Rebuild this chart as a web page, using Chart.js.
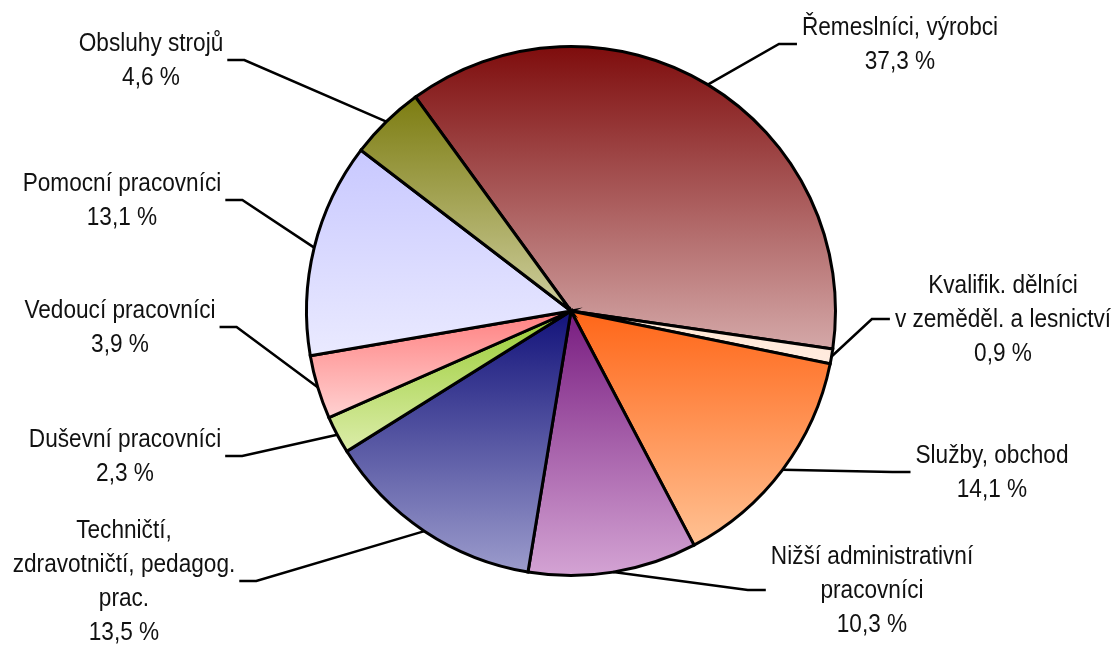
<!DOCTYPE html>
<html lang="cs">
<head>
<meta charset="UTF-8" />
<title>Struktura zaměstnaných</title>
<style>
  html, body { margin: 0; padding: 0; background: #fff; }
  #wrap { width: 1117px; height: 645px; }
</style>
</head>
<body>
<div id="wrap"><canvas id="pie" width="1117" height="645"></canvas></div>

<script src="https://cdn.jsdelivr.net/npm/chart.js"></script>
<script>
// data
const categories = [
  ['Řemeslníci, výrobci'],
  ['Kvalifik. dělníci', 'v zeměděl. a lesnictví'],
  ['Služby, obchod'],
  ['Nižší administrativní', 'pracovníci'],
  ['Techničtí,', 'zdravotničtí, pedagog.', 'prac.'],
  ['Duševní pracovníci'],
  ['Vedoucí pracovníci'],
  ['Pomocní pracovníci'],
  ['Obsluhy strojů']
];
const shares = [37.3, 0.9, 14.1, 10.3, 13.5, 2.3, 3.9, 13.1, 4.6];

// colours (top of slice -> bottom of slice)
const topColors = ['#7e0c0c', '#ffe6d2', '#ff6618', '#781c80', '#12127a', '#99cc33', '#ff8080', '#c8c8ff', '#7c7c10'];
const bottomColors = ['#d4a8a8', '#ffece0', '#ffc294', '#d4a4d4', '#9c9ccc', '#dcedaa', '#ffd2d2', '#eaeaff', '#cece9e'];

// where the label blocks sit: [centre x, middle y]
const labelSpots = [
  [900, 44], [1003, 319], [992, 472], [872, 590], [124, 581],
  [125, 456], [120, 327], [122, 200], [151, 60]
];

const ROT = -36;
// no narrow font installed, so squeeze Liberation Sans sideways
const FONT = '26px "Liberation Sans", Arial, sans-serif';
const SQUEEZE = 0.87;
const LINE_H = 34;

function sliceGeom(chart, i) {
  const a = chart.chartArea;
  const cx = (a.left + a.right) / 2, cy = (a.top + a.bottom) / 2;
  const r = Math.min(a.right - a.left, a.bottom - a.top) / 2;
  const total = shares.reduce((s, v) => s + v, 0);
  let cum = 0;
  for (let k = 0; k < i; k++) cum += shares[k];
  const base = (ROT - 90) * Math.PI / 180;
  const s = base + cum / total * 2 * Math.PI;
  const e = s + shares[i] / total * 2 * Math.PI;
  return {cx, cy, r, s, e};
}

function sliceFill(ctx) {
  const chart = ctx.chart;
  if (!chart.chartArea || ctx.dataIndex === undefined) return topColors[0];
  const i = ctx.dataIndex;
  const g = sliceGeom(chart, i);
  const ys = [g.cy, g.cy + g.r * Math.sin(g.s), g.cy + g.r * Math.sin(g.e)];
  // include top / bottom of circle if inside the sweep
  for (let k = -4; k <= 4; k++) {
    const ang = Math.PI / 2 + k * Math.PI;
    if (ang > g.s && ang < g.e) ys.push(g.cy + g.r * Math.sin(ang));
  }
  const y0 = Math.min(...ys), y1 = Math.max(...ys);
  const grad = chart.ctx.createLinearGradient(0, y0, 0, Math.max(y1, y0 + 1));
  grad.addColorStop(0, topColors[i]);
  grad.addColorStop(1, bottomColors[i]);
  return grad;
}

const leaderLabels = {
  id: 'leaderLabels',
  afterDatasetsDraw(chart) {
    const ctx = chart.ctx;
    const meta = chart.getDatasetMeta(0);
    ctx.save();
    ctx.font = FONT;
    ctx.fillStyle = '#111';
    ctx.strokeStyle = '#000';
    ctx.lineWidth = 2.5;
    ctx.textAlign = 'center';
    ctx.textBaseline = 'middle';
    meta.data.forEach((arc, i) => {
      const lines = categories[i].concat([shares[i].toFixed(1).replace('.', ',') + ' %']);
      const [lx, ly] = labelSpots[i];
      const w = SQUEEZE * Math.max(...lines.map(t => ctx.measureText(t).width));
      const mid = (arc.startAngle + arc.endAngle) / 2;
      const px = arc.x + arc.outerRadius * Math.cos(mid);
      const py = arc.y + arc.outerRadius * Math.sin(mid);
      const left = lx < arc.x;
      const attach = left ? lx + w / 2 + 4 : lx - w / 2 - 5;
      const elbow = left ? attach + 17 : attach - 18;
      ctx.beginPath();
      ctx.moveTo(px, py);
      ctx.lineTo(elbow, ly);
      ctx.lineTo(attach, ly);
      ctx.stroke();
      const top = ly - (lines.length - 1) * LINE_H / 2;
      lines.forEach((t, k) => {
        ctx.save();
        ctx.translate(lx, top + k * LINE_H + 1);
        ctx.scale(SQUEEZE, 1);
        ctx.fillText(t, 0, 0);
        ctx.restore();
      });
    });
    ctx.restore();
  }
};

new Chart(document.getElementById('pie').getContext('2d'), {
  type: 'pie',
  data: {
    labels: categories.map(c => c.join(' ')),
    datasets: [{
      data: shares,
      backgroundColor: sliceFill,
      borderColor: '#000',
      borderWidth: 3,
      borderJoinStyle: 'miter'
    }]
  },
  options: {
    responsive: false,
    animation: false,
    rotation: ROT,
    layout: { padding: { top: 45, bottom: 68, left: 300, right: 275 } },
    plugins: {
      legend: { display: false },
      tooltip: { enabled: false }
    }
  },
  plugins: [leaderLabels]
});
</script>
</body>
</html>
